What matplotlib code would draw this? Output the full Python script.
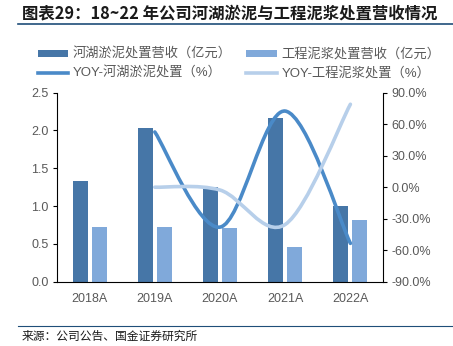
import matplotlib
matplotlib.use("Agg")
import matplotlib.pyplot as plt
from matplotlib.path import Path
from matplotlib.patches import PathPatch, Patch
from matplotlib.lines import Line2D
import numpy as np

plt.rcParams['font.family'] = ['Liberation Sans', 'Noto Sans CJK SC', 'DejaVu Sans']

categories = ["2018A", "2019A", "2020A", "2021A", "2022A"]
river_rev = [1.33, 2.03, 1.25, 2.17, 1.00]
slurry_rev = [0.73, 0.73, 0.71, 0.46, 0.82]
river_yoy = [None, 52.6, -38.0, 72.5, -53.5]
slurry_yoy = [None, 0.0, -2.7, -35.5, 79.0]

c_dark = "#4676A7"
c_light = "#80A9DA"
c_line_dark = "#4A8AC8"
c_line_light = "#B7CFEA"
gray = "#595959"

fig = plt.figure(figsize=(4.53, 3.46), dpi=100)
ax = fig.add_axes([57/453, 1-281.7/346, (383-57)/453, (281.7-92.7)/346])
x = np.arange(len(categories))
w = 0.23
off = 0.145
ax.bar(x - off, river_rev, w, color=c_dark, zorder=2)
ax.bar(x + off, slurry_rev, w, color=c_light, zorder=2)
ax.set_xlim(-0.5, 4.5)
ax.set_ylim(0, 2.5)
ax.set_yticks([0, 0.5, 1.0, 1.5, 2.0, 2.5])
ax.set_yticklabels(["0.0", "0.5", "1.0", "1.5", "2.0", "2.5"])
ax.set_xticks(x)
ax.set_xticklabels(categories)
ax.tick_params(axis='x', length=0, pad=8, labelsize=9, labelcolor=gray)
ax.tick_params(axis='y', length=3, width=0.8, labelsize=9, labelcolor=gray, pad=3)
for s in ['top', 'right']:
    ax.spines[s].set_visible(False)
for s in ['left', 'bottom']:
    ax.spines[s].set_color('black')
    ax.spines[s].set_linewidth(0.8)

ax2 = ax.twinx()
ax2.set_ylim(-90, 90)
ax2.set_yticks([-90, -60, -30, 0, 30, 60, 90])
ax2.set_yticklabels([f"{v:.1f}%" for v in [-90, -60, -30, 0, 30, 60, 90]])
ax2.tick_params(axis='y', length=3, width=0.8, labelsize=9, labelcolor=gray, pad=3)
for s in ['top', 'left', 'bottom']:
    ax2.spines[s].set_visible(False)
ax2.spines['right'].set_color('black')
ax2.spines['right'].set_linewidth(0.8)


def smooth_path(xs, ys):
    pts = list(zip(xs, ys))
    n = len(pts)
    verts = [pts[0]]
    codes = [Path.MOVETO]
    for i in range(n - 1):
        p0 = pts[i - 1] if i > 0 else pts[i]
        p1 = pts[i]
        p2 = pts[i + 1]
        p3 = pts[i + 2] if i + 2 < n else pts[i + 1]
        c1 = (p1[0] + (p2[0] - p0[0]) / 6, p1[1] + (p2[1] - p0[1]) / 6)
        c2 = (p2[0] - (p3[0] - p1[0]) / 6, p2[1] - (p3[1] - p1[1]) / 6)
        verts += [c1, c2, p2]
        codes += [Path.CURVE4] * 3
    return Path(verts, codes)


for vals, col in [(river_yoy, c_line_dark), (slurry_yoy, c_line_light)]:
    xs = [i for i, v in enumerate(vals) if v is not None]
    ys = [v for v in vals if v is not None]
    p = smooth_path(xs, ys)
    ax2.add_patch(PathPatch(p, fill=False, edgecolor=col, lw=2.6,
                            capstyle='round', joinstyle='round', zorder=3))

handles = [
    Patch(facecolor=c_dark, edgecolor='none'),
    Line2D([0], [0], color=c_line_dark, lw=2.6),
    Patch(facecolor=c_light, edgecolor='none'),
    Line2D([0], [0], color=c_line_light, lw=2.6),
]
labels = ["河湖淤泥处置营收（亿元）", "YOY-河湖淤泥处置（%）",
          "工程泥浆处置营收（亿元）", "YOY-工程泥浆处置（%）"]
leg = fig.legend(handles, labels, ncol=2, loc='upper left',
                 bbox_to_anchor=(38/453, 1-48/346), frameon=False,
                 fontsize=9.5, handlelength=2.3, handleheight=0.5,
                 handletextpad=0.35, columnspacing=1.1, labelspacing=0.45,
                 borderpad=0, borderaxespad=0)
for t in leg.get_texts():
    t.set_color(gray)

fig.text(22/453, 1-13/346, "图表29：18~22 年公司河湖淤泥与工程泥浆处置营收情况",
         fontsize=11.8, fontweight='bold', color='#1a1a1a', va='center', ha='left',
         family=['Noto Sans CJK SC', 'DejaVu Sans'])
fig.add_artist(Line2D([18/453, 1.0], [1-23.5/346, 1-23.5/346],
                      color='#1F4E79', lw=1.2, transform=fig.transFigure))
fig.add_artist(Line2D([18/453, 1.0], [1-326/346, 1-326/346],
                      color='#1F4E79', lw=0.8, transform=fig.transFigure))
fig.text(22/453, 1-336/346, "来源：公司公告、国金证券研究所", fontsize=8.5,
         color='#1a1a1a', va='center', ha='left',
         family=['Noto Sans CJK SC', 'DejaVu Sans'])

fig.savefig("out.png", dpi=100)
